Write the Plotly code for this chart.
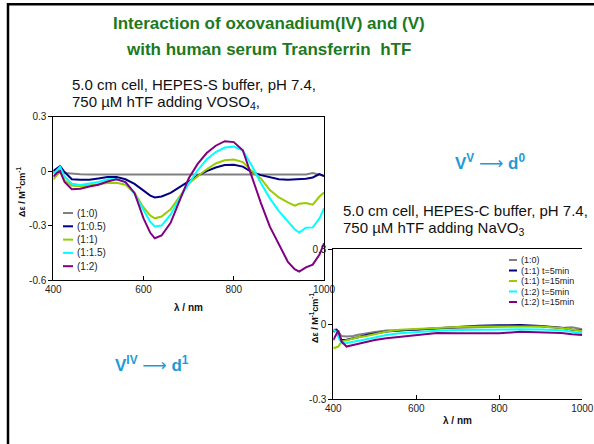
import plotly.graph_objects as go

W, H = 594, 444

# ---------------- data: chart 1 (VOSO4) ----------------
wl1 = [400, 408, 415, 425, 441, 460, 480, 500, 520, 540, 560, 580, 600, 615, 625, 640,
       660, 680, 700, 720, 740, 760, 780, 800, 820, 840, 860, 880, 900, 920, 935, 945,
       960, 975, 990, 1000]
names1 = ["(1:0)", "(1:0.5)", "(1:1)", "(1:1.5)", "(1:2)"]
s1_0 = [-0.01, 0.0, 0.005, -0.01, -0.015, -0.017, -0.018, -0.018, -0.019, -0.019, -0.019,
        -0.02, -0.02, -0.02, -0.02, -0.02, -0.019, -0.019, -0.019, -0.02, -0.02, -0.019,
        -0.02, -0.02, -0.019, -0.019, -0.02, -0.02, -0.02, -0.02, -0.019, -0.02, -0.018,
        -0.01, -0.02, -0.025]
s1_05 = [0.0, 0.015, 0.028, -0.005, -0.045, -0.048, -0.047, -0.04, -0.032, -0.033, -0.045,
         -0.07, -0.11, -0.135, -0.145, -0.14, -0.12, -0.088, -0.055, -0.025, 0.0, 0.02,
         0.034, 0.035, 0.025, -0.005, -0.022, -0.035, -0.045, -0.048, -0.046, -0.047,
         -0.042, -0.035, -0.016, -0.028]
s1_1 = [-0.045, -0.02, -0.004, -0.05, -0.08, -0.085, -0.078, -0.068, -0.065, -0.064, -0.075,
        -0.12, -0.2, -0.245, -0.26, -0.25, -0.21, -0.14, -0.07, -0.028, 0.01, 0.042, 0.06,
        0.064, 0.05, 0.0, -0.04, -0.104, -0.145, -0.172, -0.19, -0.18, -0.176, -0.185,
        -0.14, -0.117]
s1_15 = [-0.016, 0.005, 0.024, -0.03, -0.07, -0.077, -0.07, -0.06, -0.045, -0.043, -0.06,
         -0.125, -0.214, -0.28, -0.305, -0.3, -0.24, -0.15, -0.07, 0.005, 0.065, 0.105,
         0.13, 0.135, 0.115, 0.03, -0.065, -0.15, -0.22, -0.275, -0.32, -0.338, -0.312,
         -0.31, -0.26, -0.205]
s1_2 = [-0.03, -0.01, 0.0, -0.06, -0.1, -0.097, -0.085, -0.075, -0.057, -0.045, -0.06,
        -0.12, -0.26, -0.34, -0.37, -0.355, -0.285, -0.165, -0.04, 0.04, 0.1, 0.14, 0.165,
        0.16, 0.115, -0.03, -0.175, -0.306, -0.4, -0.5, -0.54, -0.554, -0.53, -0.515,
        -0.46, -0.398]
series1 = [s1_0, s1_05, s1_1, s1_15, s1_2]

# ---------------- data: chart 2 (NaVO3) ----------------
wl2 = [400, 408, 412, 420, 432, 440, 448, 460, 480, 500, 528, 560, 600, 650, 700, 750,
       800, 850, 900, 950, 975, 1000]
names2 = ["(1:0)", "(1:1) t=5min", "(1:1) t=15min", "(1:2) t=5min", "(1:2) t=15min"]
s2_0 = [-0.023, -0.02, -0.03, -0.047, -0.049, -0.049, -0.047, -0.042, -0.036, -0.031,
        -0.025, -0.024, -0.022, -0.017, -0.014, -0.01, -0.008, -0.007, -0.009, -0.015,
        -0.012, -0.02]
s2_1a = [-0.03, -0.023, -0.04, -0.063, -0.062, -0.06, -0.058, -0.052, -0.043, -0.037,
         -0.029, -0.025, -0.021, -0.014, -0.01, -0.006, -0.004, -0.003, -0.007, -0.014,
         -0.022, -0.025]
s2_1b = [-0.096, -0.092, -0.089, -0.069, -0.064, -0.06, -0.057, -0.052, -0.047, -0.04,
         -0.029, -0.022, -0.018, -0.013, -0.011, -0.009, -0.008, -0.008, -0.009, -0.015,
         -0.02, -0.027]
s2_2a = [-0.023, -0.03, -0.05, -0.076, -0.075, -0.073, -0.07, -0.066, -0.06, -0.053,
         -0.043, -0.036, -0.031, -0.026, -0.023, -0.021, -0.02, -0.02, -0.021, -0.024,
         -0.03, -0.036]
s2_2b = [-0.063, -0.035, -0.025, -0.07, -0.089, -0.086, -0.083, -0.076, -0.069, -0.063,
         -0.056, -0.05, -0.044, -0.035, -0.036, -0.037, -0.036, -0.03, -0.033, -0.035,
         -0.04, -0.043]
series2 = [s2_0, s2_1a, s2_1b, s2_2a, s2_2b]

colors = ["#808080", "#000080", "#99cc00", "#00ffff", "#800080"]
xticks = [400, 600, 800, 1000]
yticks1 = [0.3, 0, -0.3, -0.6]
yticks2 = [0.3, 0, -0.3]

FONT = "Liberation Sans, Arial, sans-serif"


def px(x):
    return x / W


def py(y):
    return 1 - y / H


fig = go.Figure()
for name, vals, c in zip(names1, series1, colors):
    fig.add_trace(go.Scatter(x=wl1, y=vals, name=name, mode="lines",
                             line=dict(color=c, width=2), xaxis="x", yaxis="y",
                             showlegend=False, hoverinfo="skip"))
for name, vals, c in zip(names2, series2, colors):
    fig.add_trace(go.Scatter(x=wl2, y=vals, name=name, mode="lines",
                             line=dict(color=c, width=2), xaxis="x2", yaxis="y2",
                             showlegend=False, hoverinfo="skip"))

tickfont = dict(family=FONT, size=10, color="#222")
axcommon = dict(showgrid=False, zeroline=False, showline=True, linecolor="black",
                linewidth=1, tickfont=tickfont, tickcolor="black", ticklen=4,
                automargin=False)

fig.update_layout(
    width=W, height=H, autosize=False,
    margin=dict(l=0, r=0, t=0, b=0, pad=0, autoexpand=False),
    paper_bgcolor="white", plot_bgcolor="white", showlegend=False,
    xaxis=dict(domain=[px(53.3), px(324)], range=[400, 1000], tickvals=xticks,
               ticks="inside", mirror=True, anchor="y", **axcommon),
    yaxis=dict(domain=[py(280), py(116.7)], range=[-0.6, 0.3], tickvals=yticks1,
               ticktext=["0.3", "0", "-0.3", "-0.6"], ticks="outside", mirror=True,
               anchor="x", **axcommon),
    xaxis2=dict(domain=[px(333.3), px(582.3)], range=[400, 1000], tickvals=xticks,
                ticks="inside", mirror=True, anchor="y2", **axcommon),
    yaxis2=dict(domain=[py(399.3), py(249.3)], range=[-0.3, 0.3], tickvals=yticks2,
                ticktext=["0.3", "0", "-0.3"], ticks="outside", anchor="x2", **axcommon),
)

ann = []


def text(x, y, t, size, color="#111", bold=False, xanchor="left", angle=0):
    ann.append(dict(xref="paper", yref="paper", x=px(x), y=py(y), text=t,
                    showarrow=False, xanchor=xanchor, yanchor="middle", textangle=angle,
                    font=dict(family=FONT, size=size, color=color,
                              weight="bold" if bold else "normal")))


green = "#1c7a1c"
blue = "#1e9bd7"
arrow = "<span style=\"font-family:'DejaVu Sans';font-weight:normal\">\u27f6</span>"
text(269, 23, "Interaction of oxovanadium(IV) and (V)", 17, green, True, "center")
text(268, 50, "with human serum Transferrin  hTF", 17, green, True, "center")
text(70, 85, "5.0 cm cell, HEPES-S buffer, pH 7.4,", 15)
text(70, 103, "750 \u00b5M hTF adding VOSO<sub>4</sub>,", 15)
text(341, 210, "5.0 cm cell, HEPES-C buffer, pH 7.4,", 15)
text(341, 228, "750 \u00b5M hTF adding NaVO<sub>3</sub>", 15)
text(453, 162, "V<sup>V</sup> " + arrow + " d<sup>0</sup>", 17, blue, True)
text(113, 364, "V<sup>IV</sup> " + arrow + " d<sup>1</sup>", 17, blue, True)

# axis titles
text(188.5, 307, "\u03bb / nm", 10, "#111", True, "center")
text(457.5, 420, "\u03bb / nm", 10, "#111", True, "center")
text(21, 192, "\u0394\u03b5 / M<sup>-1</sup>cm<sup>-1</sup>", 9, "#111", True, "center", -90)
text(314, 318, "\u0394\u03b5 / M<sup>-1</sup>cm<sup>-1</sup>", 9, "#111", True, "center", -90)

# legends
shapes = []
for i, (name, c) in enumerate(zip(names1, colors)):
    yy = 213 + i * 13.3
    shapes.append(dict(type="line", xref="paper", yref="paper", x0=px(63), x1=px(73),
                       y0=py(yy), y1=py(yy), line=dict(color=c, width=2)))
    text(75, yy, name, 10, "#222")
for i, (name, c) in enumerate(zip(names2, colors)):
    yy = 260 + i * 10.5
    shapes.append(dict(type="line", xref="paper", yref="paper", x0=px(509), x1=px(517),
                       y0=py(yy), y1=py(yy), line=dict(color=c, width=2)))
    text(519, yy, name, 9, "#222")

# slide frame
shapes.append(dict(type="line", xref="paper", yref="paper", x0=px(8), x1=px(8),
                   y0=py(3), y1=py(444), line=dict(color="black", width=2.5)))
shapes.append(dict(type="line", xref="paper", yref="paper", x0=px(7), x1=px(594),
                   y0=py(4.3), y1=py(4.3), line=dict(color="black", width=2.5)))

fig.update_layout(annotations=ann, shapes=shapes)
fig.write_html("out.html", config={"displayModeBar": False, "responsive": False},
               post_script="document.body.style.margin='0';")
